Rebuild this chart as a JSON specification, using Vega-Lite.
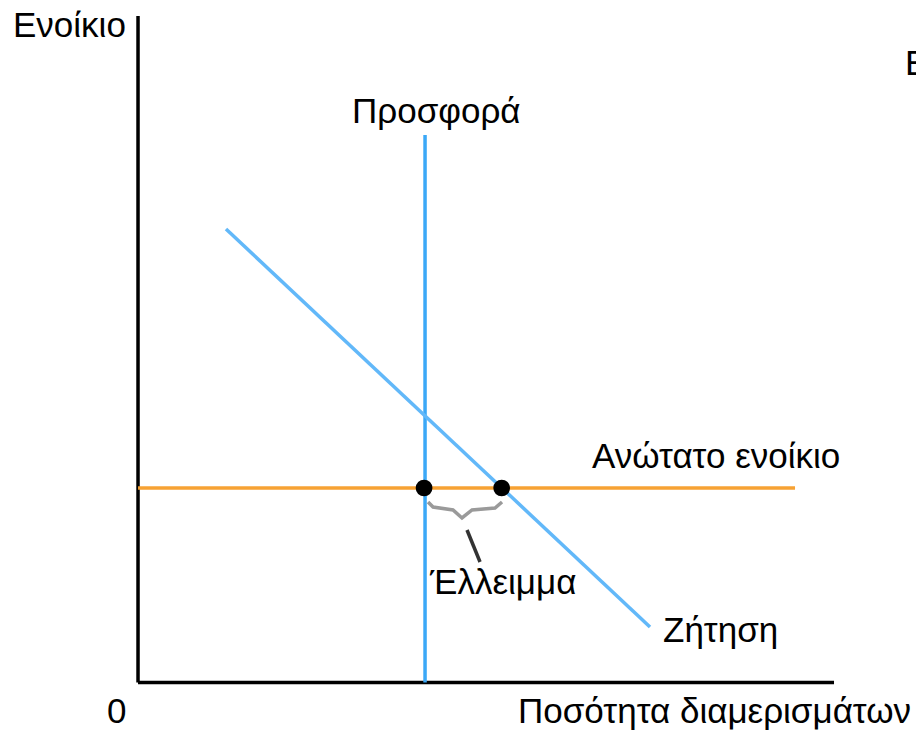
{
  "$schema": "https://vega.github.io/schema/vega-lite/v6.json",
  "width": 916,
  "height": 731,
  "autosize": {"type": "none"},
  "padding": 0,
  "background": "white",
  "config": {"view": {"stroke": null}},
  "datasets": {
    "lines": [
      {"s": "yaxis", "o": 0, "q": 0, "p": 0},
      {"s": "yaxis", "o": 1, "q": 0, "p": 100},
      {"s": "xaxis", "o": 0, "q": 0, "p": 0},
      {"s": "xaxis", "o": 1, "q": 100, "p": 0},
      {"s": "supply", "o": 0, "q": 41.24, "p": 0},
      {"s": "supply", "o": 1, "q": 41.24, "p": 82.15},
      {"s": "demand", "o": 0, "q": 12.64, "p": 68.04},
      {"s": "demand", "o": 1, "q": 73.56, "p": 8.33},
      {"s": "ceiling", "o": 0, "q": 0, "p": 29.18},
      {"s": "ceiling", "o": 1, "q": 94.4, "p": 29.18},
      {"s": "brace", "o": 0, "q": 41.67, "p": 27.08},
      {"s": "brace", "o": 1, "q": 42.39, "p": 26.33},
      {"s": "brace", "o": 2, "q": 45.26, "p": 25.88},
      {"s": "brace", "o": 3, "q": 46.55, "p": 24.68},
      {"s": "brace", "o": 4, "q": 47.99, "p": 25.88},
      {"s": "brace", "o": 5, "q": 51.29, "p": 26.18},
      {"s": "brace", "o": 6, "q": 52.3, "p": 27.08},
      {"s": "leader", "o": 0, "q": 47.27, "p": 22.88},
      {"s": "leader", "o": 1, "q": 49.14, "p": 18.08}
    ],
    "dots": [
      {"q": 41.1, "p": 29.18},
      {"q": 52.25, "p": 29.18}
    ],
    "labels": [
      {"t": "Ενοίκιο", "q": -17.96, "p": 96.85},
      {"t": "0", "q": -4.45, "p": -6.08},
      {"t": "Ποσότητα διαμερισμάτων", "q": 54.6, "p": -6.08},
      {"t": "Προσφορά", "q": 30.75, "p": 83.96},
      {"t": "Ανώτατο ενοίκιο", "q": 65.23, "p": 32.18},
      {"t": "Έλλειμμα", "q": 41.95, "p": 13.28},
      {"t": "Ζήτηση", "q": 75.43, "p": 6.08},
      {"t": "Ε", "q": 110.2, "p": 91.15}
    ]
  },
  "layer": [
    {
      "data": {"name": "lines"},
      "mark": {"type": "line", "strokeCap": "butt"},
      "encoding": {
        "x": {"field": "q", "type": "quantitative", "scale": {"domain": [-19.83, 111.78], "nice": false, "zero": false}, "axis": null},
        "y": {"field": "p", "type": "quantitative", "scale": {"domain": [-7.28, 102.4], "nice": false, "zero": false}, "axis": null},
        "order": {"field": "o", "type": "quantitative"},
        "detail": {"field": "s"},
        "color": {"field": "s", "type": "nominal", "legend": null,
          "scale": {"domain": ["yaxis", "xaxis", "supply", "demand", "ceiling", "brace", "leader"],
                    "range": ["#000000", "#000000", "#3ba8f7", "#62b8f9", "#f7a233", "#9a9a9a", "#333333"]}},
        "strokeWidth": {"field": "s", "type": "nominal", "legend": null,
          "scale": {"domain": ["yaxis", "xaxis", "supply", "demand", "ceiling", "brace", "leader"],
                    "range": [3.5, 3.5, 3.5, 3, 3.5, 3, 2]}}
      }
    },
    {
      "data": {"name": "dots"},
      "mark": {"type": "circle", "size": 280, "color": "#000000", "opacity": 1},
      "encoding": {
        "x": {"field": "q", "type": "quantitative"},
        "y": {"field": "p", "type": "quantitative"}
      }
    },
    {
      "data": {"name": "labels"},
      "mark": {"type": "text", "align": "left", "baseline": "alphabetic", "font": "Liberation Sans", "fontSize": 35, "color": "#000000"},
      "encoding": {
        "x": {"field": "q", "type": "quantitative"},
        "y": {"field": "p", "type": "quantitative"},
        "text": {"field": "t"}
      }
    }
  ]
}
